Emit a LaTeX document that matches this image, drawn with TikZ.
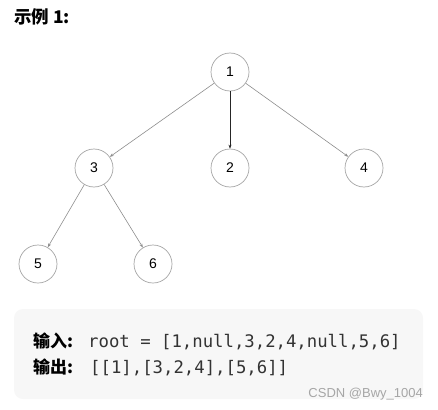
\documentclass[tikz,border=0pt]{standalone}
\usepackage{fontspec}
\setmainfont{Liberation Sans}
\setmonofont{DejaVu Sans Mono}
\newfontfamily\cjk{Noto Sans CJK SC}
\usetikzlibrary{arrows.meta}
\definecolor{boxgray}{HTML}{F7F7F7}
\definecolor{linegray}{HTML}{8C8C8C}
\definecolor{codegray}{HTML}{333333}

\begin{document}
\begin{tikzpicture}[x=1pt, y=-1pt,
    tnode/.style={circle, draw=linegray!80, line width=0.7pt, minimum size=38pt,
                  inner sep=0pt, font=\fontsize{14}{14}\selectfont},
    tedge/.style={draw=linegray, line width=0.6pt, -{Stealth[length=4pt, width=3pt]}}]
    \useasboundingbox (0,0) rectangle (438,409);

    % Titulo
    \node[anchor=base west, inner sep=0pt, font=\cjk\bfseries\fontsize{17.5}{17.5}\selectfont] (title) at (14,24) {示例 1:};

    % Arvore
    \foreach \name/\x/\y in {1/230/72, 3/94/168, 2/230/168, 4/364/168, 5/38/264, 6/153/264}
        \node[tnode] (n\name) at (\x,\y) {\name};
    \foreach \a/\b in {1/3, 1/4, 3/5, 3/6}
        \draw[tedge] (n\a) -- (n\b);
    \draw[tedge, draw=black!85] (n1) -- (n2);

    % Caixa de exemplo
    \fill[boxgray, rounded corners=9pt] (14,309) rectangle (423,399);
    \node[anchor=base west, inner sep=0pt, font=\cjk\bfseries\fontsize{17}{17}\selectfont] (inlab) at (33,347) {输入:};
    \node[anchor=base west, inner sep=0pt, text=codegray, font=\ttfamily\fontsize{17.3}{17.3}\selectfont] (incode) at (88,347) {root = [1,null,3,2,4,null,5,6]};
    \node[anchor=base west, inner sep=0pt, font=\cjk\bfseries\fontsize{17}{17}\selectfont] (outlab) at (33,373) {输出:};
    \node[anchor=base west, inner sep=0pt, text=codegray, font=\ttfamily\fontsize{17.3}{17.3}\selectfont] (outcode) at (90,373) {[[1],[3,2,4],[5,6]]};
    \node[anchor=base east, inner sep=0pt, text=black!35, font=\fontsize{13}{13}\selectfont] (mark) at (423,397) {CSDN @Bwy\_1004};
\end{tikzpicture}
\end{document}
